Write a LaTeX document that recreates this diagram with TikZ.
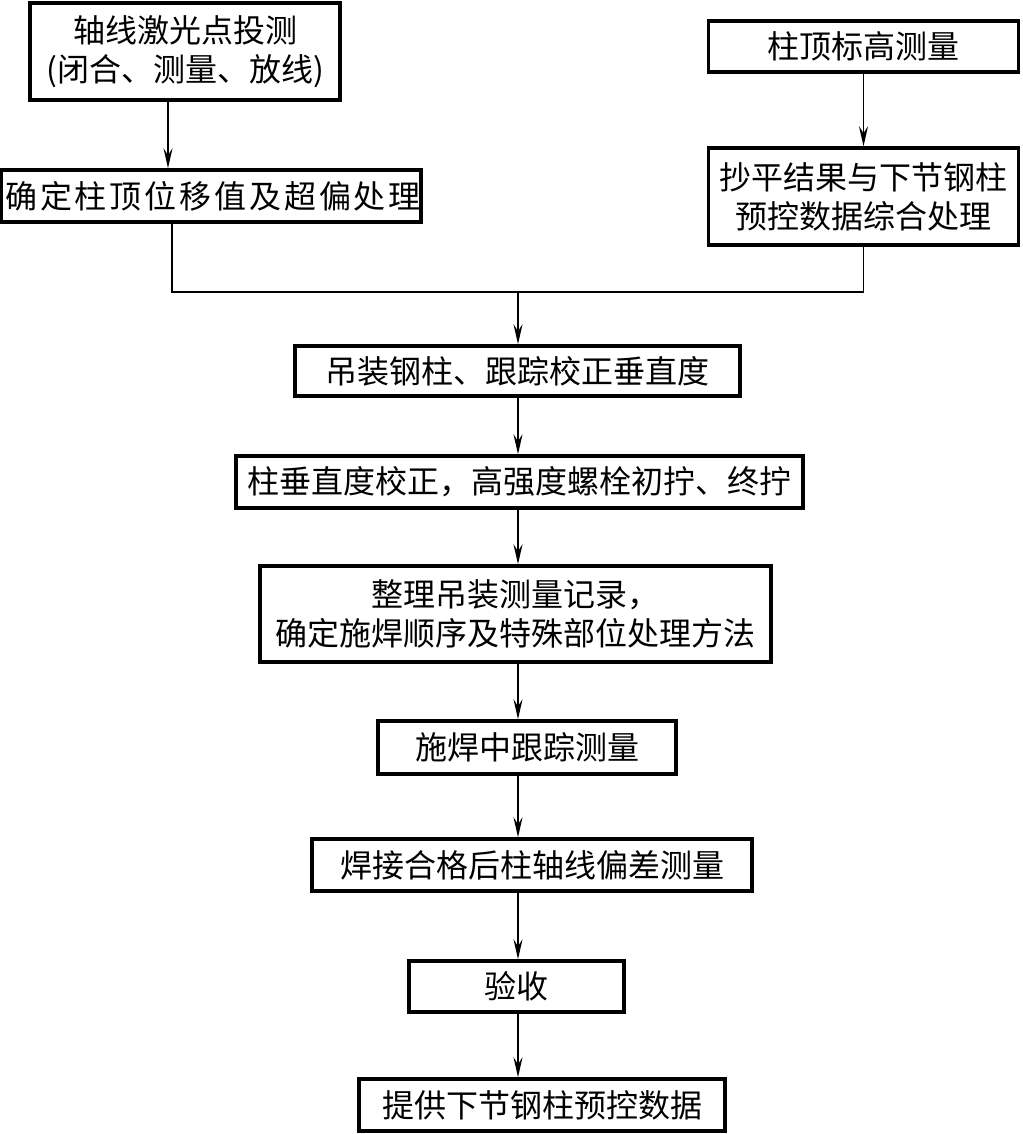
\documentclass[tikz,border=0pt]{standalone}
\usepackage{fontspec}
\setmainfont{Noto Sans CJK SC}
\newfontfamily\widecjk{Noto Sans CJK SC}[LetterSpace=9]
\usetikzlibrary{arrows.meta}

\begin{document}
\begin{tikzpicture}[x=1pt, y=-1pt,
  box/.style={draw, line width=3.5pt, inner sep=0pt, align=center,
    font=\fontsize{32}{39}\selectfont},
  link/.style={line width=1.5pt},
  arr/.style={link, -{Stealth[length=20pt, width=9pt, inset=7pt]}}]
  \useasboundingbox (0,0) rectangle (1022,1134);
  % top left branch
  \node[box, minimum width=310pt, minimum height=97pt] (laser) at (185,51.5)
    {轴线激光点投测\\(闭合、测量、放线)};
  \node[box, minimum width=412pt, minimum height=52pt] (offset) at (211,196)
    {\hspace{4pt}\widecjk 确定柱顶位移值及超偏处理};
  % top right branch
  \node[box, minimum width=310pt, minimum height=51pt] (level) at (863.5,46.5)
    {柱顶标高测量};
  \node[box, minimum width=310pt, minimum height=97pt] (merge) at (863.5,196.5)
    {抄平结果与下节钢柱\\预控数据综合处理};
  % main chain
  \node[box, minimum width=445pt, minimum height=50pt] (hoist) at (517.5,371)
    {吊装钢柱、跟踪校正垂直度};
  \node[box, minimum width=567pt, minimum height=52pt] (plumb) at (519.5,482)
    {柱垂直度校正，高强度螺栓初拧、终拧};
  \node[box, minimum width=511pt, minimum height=96pt] (record) at (515.5,614)
    {整理吊装测量记录，\\确定施焊顺序及特殊部位处理方法};
  \node[box, minimum width=298pt, minimum height=53pt] (weld) at (527,747.5)
    {施焊中跟踪测量};
  \node[box, minimum width=440pt, minimum height=52pt] (check) at (532,865)
    {焊接合格后柱轴线偏差测量};
  \node[box, minimum width=215pt, minimum height=51pt] (accept) at (516.5,986.5)
    {验收};
  \node[box, minimum width=366pt, minimum height=52pt] (supply) at (542,1105)
    {提供下节钢柱预控数据};
  % connectors
  \coordinate (laserx) at (168,0);
  \coordinate (offx) at (172,0);
  \coordinate (spine) at (518,292);
  \draw[arr] (laser.south -| laserx) -- (offset.north -| laserx);
  \draw[arr] (level.south) -- (level.south |- merge.north);
  \draw[link] (offset.south -| offx) |- (spine) -| (merge.south);
  \draw[arr] (spine) -- (hoist.north -| spine);
  \foreach \a/\b in {hoist/plumb, plumb/record, record/weld, weld/check,
    check/accept, accept/supply}
    \draw[arr] (\a.south -| spine) -- (\b.north -| spine);
\end{tikzpicture}
\end{document}
